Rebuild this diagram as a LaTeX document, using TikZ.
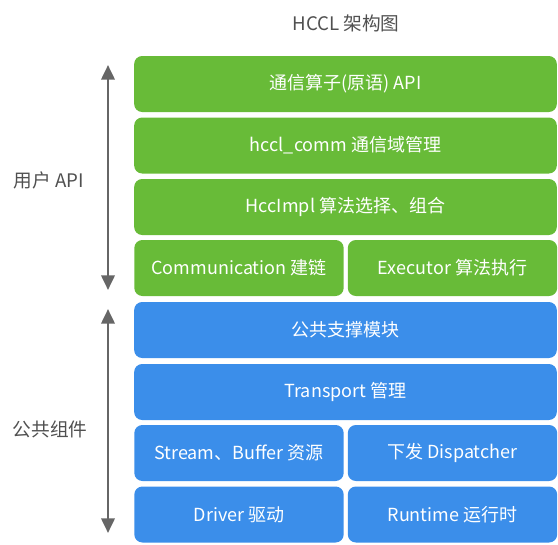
\documentclass[tikz,border=0pt]{standalone}
\usepackage{fontspec}
\usepackage{xcolor}
\usepackage{tikz}
\usetikzlibrary{arrows.meta}
\setmainfont{Noto Sans CJK SC}
\definecolor{apigreen}{RGB}{104,187,56}
\definecolor{compblue}{RGB}{59,142,234}
\definecolor{arrowgray}{RGB}{102,102,102}
\definecolor{labelgray}{RGB}{80,80,80}

\begin{document}
\begin{tikzpicture}[x=0.75pt, y=-0.75pt,
        layer/.style={rectangle, rounded corners=6pt, text=white, font=\fontsize{13.5}{16}\selectfont,
              minimum height=42pt, inner sep=0pt, anchor=center},
        fullbox/.style={layer, minimum width=317pt},
        halfbox/.style={layer, minimum width=157pt},
        sidelabel/.style={text=labelgray, font=\fontsize{14}{16}\selectfont},
        span/.style={draw=arrowgray, line width=2pt, {Triangle[width=10pt,length=11pt]}-{Triangle[width=10pt,length=11pt]}}]
        \useasboundingbox (0,0) rectangle (558,544);
        \node[text=labelgray, font=\fontsize{14}{16}\selectfont] (title) at (346,23) {HCCL 架构图};
        % user API layers
        \node[fullbox, fill=apigreen] (ops) at (345.5,84) {通信算子(原语) API};
        \node[fullbox, fill=apigreen] (comm) at (345.5,145.5) {hccl\_comm 通信域管理};
        \node[fullbox, fill=apigreen] (impl) at (345.5,207) {HccImpl 算法选择、组合};
        \node[halfbox, fill=apigreen] (link) at (239,268) {Communication 建链};
        \node[halfbox, fill=apigreen] (exec) at (452.5,268) {Executor 算法执行};
        % common components
        \node[fullbox, fill=compblue] (support) at (345.5,330) {公共支撑模块};
        \node[fullbox, fill=compblue] (transport) at (345.5,392) {Transport 管理};
        \node[halfbox, fill=compblue] (stream) at (239,453) {Stream、Buffer 资源};
        \node[halfbox, fill=compblue] (dispatch) at (452.5,453) {下发 Dispatcher};
        \node[halfbox, fill=compblue] (driver) at (239,514.5) {Driver 驱动};
        \node[halfbox, fill=compblue] (runtime) at (452.5,514.5) {Runtime 运行时};
        % side spans
        \coordinate (apiTop) at (108,65);
        \coordinate (apiBot) at (108,290);
        \coordinate (compTop) at (108,309);
        \coordinate (compBot) at (108,533);
        \draw[span] (apiTop) -- (apiBot);
        \draw[span] (compTop) -- (compBot);
        \node[sidelabel] (apilabel) at (49,180) {用户 API};
        \node[sidelabel] (complabel) at (50,429) {公共组件};
    \end{tikzpicture}
\end{document}
